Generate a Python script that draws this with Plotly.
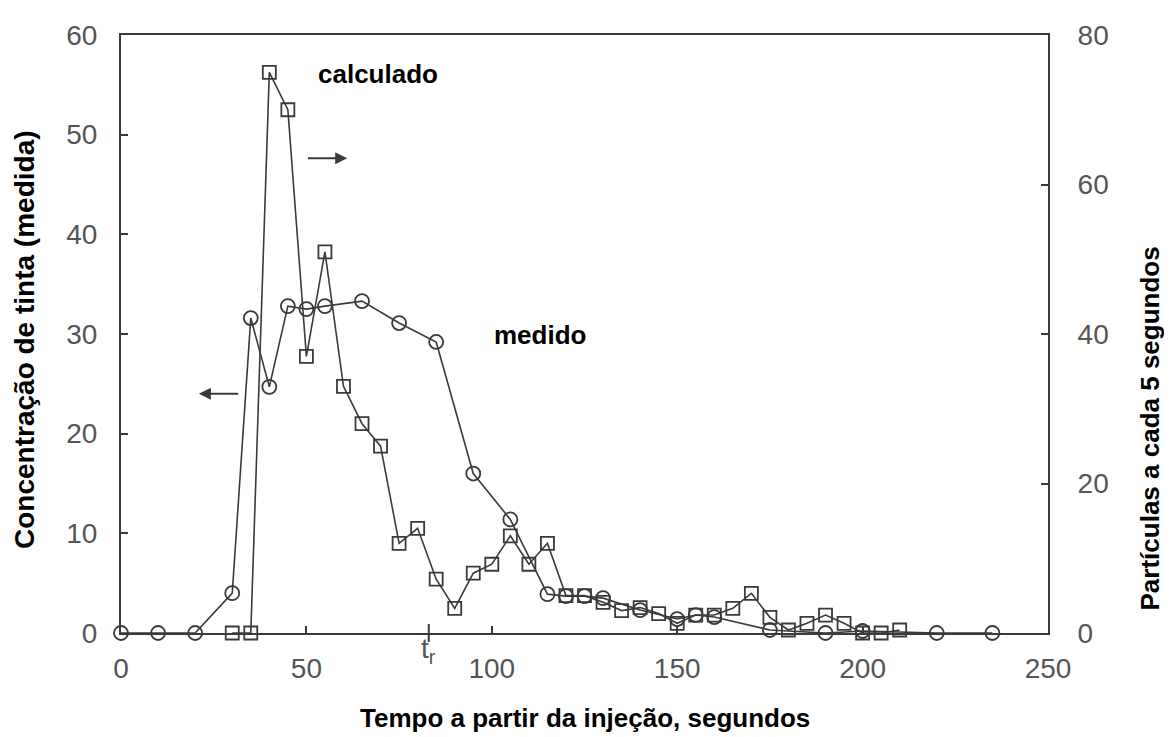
import plotly.graph_objects as go

# medido: concentração de tinta (eixo esquerdo)
medido_t = [0, 10, 20, 30, 35, 40, 45, 50, 55, 65, 75, 85, 95, 105, 115, 120, 125, 130,
            140, 150, 155, 160, 175, 190, 200, 220, 235]
medido_c = [0, 0, 0, 4, 31.6, 24.7, 32.8, 32.5, 32.8, 33.3, 31.1, 29.2, 16.0, 11.4, 3.9, 3.7,
            3.7, 3.5, 2.3, 1.4, 1.8, 1.6, 0.3, 0, 0.2, 0, 0]

# calculado: partículas a cada 5 segundos (eixo direito)
calc_t = [30, 35, 40, 45, 50, 55, 60, 65, 70, 75, 80, 85, 90, 95, 100, 105, 110, 115, 120,
          125, 130, 135, 140, 145, 150, 155, 160, 165, 170, 175, 180, 185, 190, 195, 200, 205, 210]
calc_n = [0, 0, 75, 70, 37, 51, 33, 28, 25, 12, 14, 7.2, 3.3, 8, 9.2, 13, 9.2, 12, 5,
          5, 4.1, 3, 3.4, 2.6, 1.3, 2.4, 2.4, 3.3, 5.3, 2.1, 0.4, 1.3, 2.4, 1.3, 0, 0, 0.4]

x_ticks = [0, 50, 100, 150, 200, 250]
left_ticks = [0, 10, 20, 30, 40, 50, 60]
right_ticks = [0, 20, 40, 60, 80]
t_r = 83

INK = "#3a3a3a"
TICKFONT = dict(family="Liberation Sans, Arial, sans-serif", size=28, color="#555555")
BOLD = "Liberation Sans, Arial, sans-serif"

fig = go.Figure()

fig.add_trace(
    go.Scatter(
        x=medido_t,
        y=medido_c,
        name="medido",
        mode="lines+markers",
        line=dict(color=INK, width=1.6),
        marker=dict(symbol="circle-open", size=14, color=INK, line=dict(width=1.8)),
        cliponaxis=False,
        yaxis="y",
    )
)

fig.add_trace(
    go.Scatter(
        x=calc_t,
        y=calc_n,
        name="calculado",
        mode="lines+markers",
        line=dict(color=INK, width=1.6),
        marker=dict(symbol="square-open", size=13, color=INK, line=dict(width=1.8)),
        cliponaxis=False,
        yaxis="y2",
    )
)

# marca de t_r no eixo x
fig.add_shape(type="line", xref="x", yref="paper", x0=t_r, x1=t_r, y0=-0.015, y1=0.015,
              line=dict(color=INK, width=2))

fig.add_annotation(x=t_r, y=0, xref="x", yref="paper", yshift=-37, text="t<sub>r</sub>",
                   showarrow=False, font=TICKFONT)

fig.add_annotation(x=0.277, y=0.934, xref="paper", yref="paper", xanchor="center",
                   yanchor="middle", text="calculado", showarrow=False,
                   font=dict(family=BOLD, size=26, color="black", weight="bold"))
fig.add_annotation(x=0.452, y=0.498, xref="paper", yref="paper", xanchor="center",
                   yanchor="middle", text="medido", showarrow=False,
                   font=dict(family=BOLD, size=26, color="black", weight="bold"))

# setas indicando o eixo de cada curva
fig.add_annotation(x=21, y=24, ax=32, ay=24, xref="x", yref="y", axref="x", ayref="y",
                   text="", showarrow=True, arrowhead=2, arrowsize=1.2, arrowwidth=2,
                   arrowcolor=INK)
fig.add_annotation(x=61, y=63.5, ax=50, ay=63.5, xref="x", yref="y2", axref="x", ayref="y2",
                   text="", showarrow=True, arrowhead=2, arrowsize=1.2, arrowwidth=2,
                   arrowcolor=INK)

# títulos dos eixos
fig.add_annotation(x=0.5, y=0, xref="paper", yref="paper", xanchor="center",
                   yanchor="middle", yshift=-85,
                   text="Tempo a partir da injeção, segundos", showarrow=False,
                   font=dict(family=BOLD, size=26, color="black", weight="bold"))
fig.add_annotation(x=0, y=0.49, xref="paper", yref="paper", xanchor="center",
                   yanchor="middle", xshift=-96,
                   text="Concentração de tinta (medida)", showarrow=False, textangle=-90,
                   font=dict(family=BOLD, size=28, color="black", weight="bold"))
fig.add_annotation(x=1, y=0.342, xref="paper", yref="paper", xanchor="center",
                   yanchor="middle", xshift=102,
                   text="Partículas a cada 5 segundos", showarrow=False, textangle=-90,
                   font=dict(family=BOLD, size=26, color="black", weight="bold"))

fig.update_layout(
    width=1164,
    height=729,
    margin=dict(l=113, r=124, t=17, b=104),
    plot_bgcolor="white",
    paper_bgcolor="white",
    showlegend=False,
    xaxis=dict(
        range=[0, 250],
        tickvals=x_ticks,
        ticks="inside",
        ticklen=7,
        tickwidth=2,
        tickcolor=INK,
        tickfont=TICKFONT,
        ticklabelstandoff=9,
        showgrid=False,
        zeroline=False,
        showline=True,
        linecolor=INK,
        linewidth=2,
        mirror=True,
    ),
    yaxis=dict(
        range=[0, 60],
        tickvals=left_ticks,
        ticks="inside",
        ticklen=7,
        tickwidth=2,
        tickcolor=INK,
        tickfont=TICKFONT,
        ticklabelstandoff=16,
        showgrid=False,
        zeroline=False,
        showline=True,
        linecolor=INK,
        linewidth=2,
    ),
    yaxis2=dict(
        range=[0, 80],
        tickvals=right_ticks,
        overlaying="y",
        side="right",
        ticks="inside",
        ticklen=7,
        tickwidth=2,
        tickcolor=INK,
        tickfont=TICKFONT,
        ticklabelstandoff=22,
        showgrid=False,
        zeroline=False,
        showline=True,
        linecolor=INK,
        linewidth=2,
    ),
)

fig.write_html("out.html")
